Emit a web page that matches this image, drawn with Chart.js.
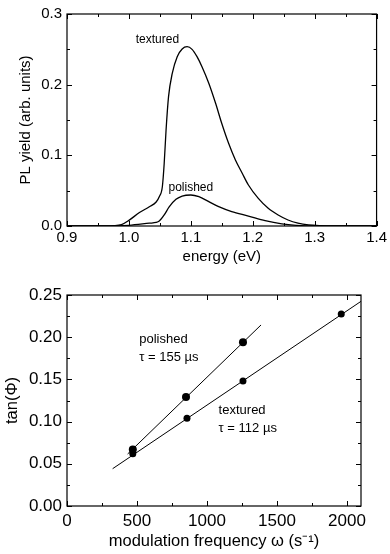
<!DOCTYPE html>
<html>
<head>
<meta charset="utf-8">
<script src="https://cdn.jsdelivr.net/npm/chart.js@4/dist/chart.umd.min.js"></script>
<style>
  body { margin: 0; background: #fff; }
  #wrap { position: relative; width: 390px; height: 554px; }
  canvas { position: absolute; left: 0; }
  #plChart { top: 0; }
  #tanChart { top: 270px; }
</style>
</head>
<body>
<div id="wrap">
  <canvas id="plChart" width="390" height="270"></canvas>
  <canvas id="tanChart" width="390" height="284"></canvas>
</div>
<script>
// PL spectra (top)
const texturedE = [0.90, 0.95, 0.975, 0.988, 1.000, 1.017, 1.033, 1.044, 1.049, 1.054, 1.057, 1.060, 1.064, 1.070, 1.078, 1.086, 1.094, 1.102, 1.110, 1.118, 1.129, 1.140, 1.150, 1.161, 1.172, 1.183, 1.193, 1.209, 1.225, 1.241, 1.257, 1.273, 1.290, 1.31, 1.35, 1.40];
const texturedPL = [0, 0, 0.0005, 0.002, 0.008, 0.019, 0.0273, 0.034, 0.0415, 0.0556, 0.0887, 0.1358, 0.183, 0.216, 0.2396, 0.2505, 0.2537, 0.250, 0.2396, 0.2254, 0.202, 0.1736, 0.145, 0.117, 0.0934, 0.0746, 0.058, 0.039, 0.025, 0.0156, 0.0085, 0.004, 0.0015, 0.0005, 0, 0];
const polishedE = [0.90, 0.95, 1.00, 1.033, 1.044, 1.049, 1.057, 1.065, 1.076, 1.086, 1.100, 1.113, 1.129, 1.145, 1.166, 1.193, 1.220, 1.247, 1.27, 1.30, 1.35, 1.40];
const polishedPL = [0, 0, 0.001, 0.004, 0.005, 0.007, 0.0156, 0.027, 0.0377, 0.0424, 0.0439, 0.0415, 0.0344, 0.0273, 0.0203, 0.0141, 0.0075, 0.003, 0.001, 0, 0, 0];
const plXTicks = [0.9, 1.0, 1.1, 1.2, 1.3, 1.4];
const plYTicks = [0, 0.1, 0.2, 0.3];

// tan(phi) vs modulation frequency (bottom)
const polishedFreq = [470, 850, 1257];
const polishedTan = [0.067, 0.129, 0.194];
const texturedFreq = [470, 857, 1257, 1959];
const texturedTan = [0.062, 0.104, 0.148, 0.2275];
const polishedFitFreq = [433, 1386];
const polishedFitTan = [0.0616, 0.2145];
const texturedFitFreq = [326, 2100];
const texturedFitTan = [0.0442, 0.2425];
const tanXTicks = [0, 500, 1000, 1500, 2000];
const tanYTicks = [0, 0.05, 0.10, 0.15, 0.20, 0.25];

Chart.defaults.font.family = "'Liberation Sans', Arial, sans-serif";
Chart.defaults.font.size = 15;
Chart.defaults.color = "#000";

function pts(xs, ys) {
  return xs.map((x, i) => ({ x: x, y: ys[i] }));
}

function fixedTicks(list) {
  return (s) => { s.ticks = list.map((v) => ({ value: v })); };
}

// box with inward ticks on all four sides
const frameTicks = {
  id: "frameTicks",
  afterDraw(chart, args, opts) {
    const { ctx, chartArea: a, scales } = chart;
    ctx.save();
    ctx.strokeStyle = "#000";
    ctx.lineWidth = 1.2;
    ctx.strokeRect(a.left, a.top, a.right - a.left, a.bottom - a.top);
    ctx.lineWidth = 1;
    ctx.beginPath();
    const xs = scales.x;
    let n = Math.round((opts.xMax - opts.xMin) / opts.xMinor);
    for (let i = 0; i <= n; i++) {
      const px = Math.round(xs.getPixelForValue(opts.xMin + i * opts.xMinor)) + 0.5;
      const len = i % 2 === 0 ? 5 : 3;
      ctx.moveTo(px, a.bottom); ctx.lineTo(px, a.bottom - len);
      ctx.moveTo(px, a.top); ctx.lineTo(px, a.top + len);
    }
    const ys = scales.y;
    n = Math.round((opts.yMax - opts.yMin) / opts.yMinor);
    for (let i = 0; i <= n; i++) {
      const py = Math.round(ys.getPixelForValue(opts.yMin + i * opts.yMinor)) + 0.5;
      const len = i % 2 === 0 ? 5 : 3;
      ctx.moveTo(a.left, py); ctx.lineTo(a.left + len, py);
      ctx.moveTo(a.right, py); ctx.lineTo(a.right - len, py);
    }
    ctx.stroke();
    ctx.restore();
  }
};

// text labels placed at data coordinates
const notes = {
  id: "notes",
  afterDatasetsDraw(chart, args, opts) {
    const { ctx, scales } = chart;
    ctx.save();
    ctx.fillStyle = "#000";
    ctx.textBaseline = "middle";
    opts.items.forEach((t) => {
      ctx.font = t.size + "px 'Liberation Sans', Arial, sans-serif";
      ctx.textAlign = t.align;
      ctx.fillText(t.text, scales.x.getPixelForValue(t.x), scales.y.getPixelForValue(t.y));
    });
    ctx.restore();
  }
};

const lineStyle = {
  borderColor: "#000",
  borderWidth: 1.3,
  pointRadius: 0,
  cubicInterpolationMode: "monotone",
  fill: false,
};

const plChart = new Chart(document.getElementById("plChart"), {
  type: "line",
  data: {
    datasets: [
      Object.assign({ label: "textured", data: pts(texturedE, texturedPL) }, lineStyle),
      Object.assign({ label: "polished", data: pts(polishedE, polishedPL) }, lineStyle),
    ],
  },
  options: {
    responsive: false,
    animation: false,
    devicePixelRatio: 1,
    layout: { padding: { top: 14, right: 11, left: 0, bottom: 0 } },
    plugins: {
      legend: { display: false },
      tooltip: { enabled: false },
      frameTicks: { xMin: 0.9, xMax: 1.4, xMinor: 0.05, yMin: 0, yMax: 0.3, yMinor: 0.05 },
      notes: {
        items: [
          { text: "textured", x: 1.046, y: 0.263, size: 12, align: "center" },
          { text: "polished", x: 1.100, y: 0.0548, size: 12, align: "center" },
        ],
      },
    },
    scales: {
      x: {
        type: "linear",
        min: 0.9,
        max: 1.4,
        grid: { display: false, drawTicks: false },
        border: { display: false },
        afterBuildTicks: fixedTicks(plXTicks),
        ticks: { padding: 3, autoSkip: false, maxRotation: 0, callback: (v) => v.toFixed(1) },
        title: { display: true, text: "energy (eV)", padding: { top: 0, bottom: 4 } },
        afterFit: (s) => { s.height = 44; },
      },
      y: {
        min: 0,
        max: 0.3,
        grid: { display: false, drawTicks: false },
        border: { display: false },
        afterBuildTicks: fixedTicks(plYTicks),
        ticks: { padding: 5, callback: (v) => v.toFixed(1) },
        title: { display: true, text: "PL yield (arb. units)", padding: { top: 17, bottom: 0 } },
        afterFit: (s) => { s.width = 67; },
      },
    },
  },
  plugins: [frameTicks, notes],
});

const dotStyle = {
  showLine: false,
  pointRadius: 3.5,
  pointBackgroundColor: "#000",
  pointBorderColor: "#000",
  pointBorderWidth: 0,
};
const fitStyle = {
  showLine: true,
  borderColor: "#000",
  borderWidth: 1,
  pointRadius: 0,
};

const tanChart = new Chart(document.getElementById("tanChart"), {
  type: "scatter",
  data: {
    datasets: [
      Object.assign({ label: "polished fit", data: pts(polishedFitFreq, polishedFitTan) }, fitStyle),
      Object.assign({ label: "textured fit", data: pts(texturedFitFreq, texturedFitTan) }, fitStyle),
      Object.assign({ label: "polished", data: pts(polishedFreq, polishedTan) }, dotStyle, { pointRadius: 4 }),
      Object.assign({ label: "textured", data: pts(texturedFreq, texturedTan) }, dotStyle),
    ],
  },
  options: {
    responsive: false,
    animation: false,
    devicePixelRatio: 1,
    layout: { padding: { top: 25, right: 29, left: 0, bottom: 0 } },
    plugins: {
      legend: { display: false },
      tooltip: { enabled: false },
      frameTicks: { xMin: 0, xMax: 2000, xMinor: 250, yMin: 0, yMax: 0.25, yMinor: 0.025 },
      notes: {
        items: [
          { text: "polished", x: 516, y: 0.1975, size: 13, align: "left" },
          { text: "τ = 155 µs", x: 516, y: 0.1757, size: 13, align: "left" },
          { text: "textured", x: 1083, y: 0.113, size: 13, align: "left" },
          { text: "τ = 112 µs", x: 1083, y: 0.092, size: 13, align: "left" },
        ],
      },
    },
    scales: {
      x: {
        type: "linear",
        min: 0,
        max: 2100,
        grid: { display: false, drawTicks: false },
        border: { display: false },
        afterBuildTicks: fixedTicks(tanXTicks),
        ticks: { padding: 5, autoSkip: false, maxRotation: 0, font: { size: 17 }, callback: (v) => String(v) },
        title: { display: true, text: "modulation frequency ω (s⁻¹)", font: { size: 16.5 }, padding: { top: 0, bottom: 3 } },
        afterFit: (s) => { s.height = 48; },
      },
      y: {
        min: 0,
        max: 0.25,
        grid: { display: false, drawTicks: false },
        border: { display: false },
        afterBuildTicks: fixedTicks(tanYTicks),
        ticks: { padding: 5, font: { size: 17 }, callback: (v) => v.toFixed(2) },
        title: { display: true, text: "tan(Φ)", font: { size: 16.5 }, padding: { top: 3, bottom: 0 } },
        afterFit: (s) => { s.width = 67; },
      },
    },
  },
  plugins: [frameTicks, notes],
});
</script>
</body>
</html>
